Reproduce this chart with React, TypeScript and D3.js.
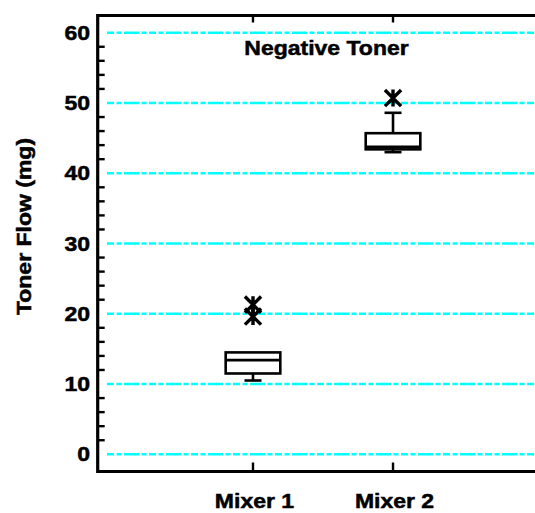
import React from 'react';
import * as d3 from 'd3';

// box summary per mixer (mg)
const categories = ['Mixer 1', 'Mixer 2'];
const lowerWhisker = [10.5, 43.0];
const q1 = [11.5, 43.4];
const medians = [13.4, 43.75];
const q3 = [14.5, 45.7];
const upperWhisker = [14.5, 48.6];
const outliers = [[21.3, 19.6], [50.7]];

const yMajorTicks = [0, 10, 20, 30, 40, 50, 60];
const yMinorTicks = d3.range(2, 60, 2).filter((v) => v % 10 !== 0);

const width = 535;
const height = 513;
const left = 97.7;
const top = 15.5;
const bottom = 471.5;
const font = 'Liberation Sans, Arial, Helvetica, sans-serif';

// the original type is a wide, heavy bold helvetica, so stretch it a bit
function Label({ x, y, anchor = 'middle', rotate = 0, children }: any) {
  return (
    <text
      transform={`translate(${x},${y}) rotate(${rotate}) scale(1.15,1)`}
      textAnchor={anchor}
      fontSize={20}
      stroke="#000"
      strokeWidth={0.5}
    >
      {children}
    </text>
  );
}

function Star({ x, y, r }: { x: number; y: number; r: number }) {
  const d = r * 0.95;
  return (
    <path
      d={`M${x},${y - r}L${x},${y + r}M${x - d},${y - d}L${x + d},${y + d}M${x - d},${y + d}L${x + d},${y - d}`}
      stroke="#000"
      strokeWidth={3.4}
      fill="none"
    />
  );
}

export default function App() {
  const y = d3.scaleLinear().domain([-2.45, 62.45]).range([bottom, top]);
  const x = d3.scalePoint<string>().domain(categories).range([left, 548.3]).padding(1.109);
  const boxW = x.step() * 0.39;
  const capW = 17;

  return (
    <svg
      width={width}
      height={height}
      style={{ position: 'fixed', left: 0, top: 0, background: '#fff' }}
      fontFamily={font}
      fontWeight="bold"
    >
      {/* gridlines */}
      {yMajorTicks.map((t) => (
        <line
          key={'g' + t}
          x1={107}
          x2={width}
          y1={y(t)}
          y2={y(t)}
          stroke="#00ffff"
          strokeWidth={2.4}
          strokeDasharray="7,2.5,5,2.5,15,2.5,5,2.5"
        />
      ))}

      {/* axes frame */}
      <line x1={left} x2={width} y1={top} y2={top} stroke="#000" strokeWidth={3.2} />
      <line x1={left} x2={width} y1={bottom} y2={bottom} stroke="#000" strokeWidth={3.2} />
      <line x1={left} x2={left} y1={top - 1.6} y2={bottom + 1.6} stroke="#000" strokeWidth={3.2} />

      {yMinorTicks.map((t) => (
        <line key={'m' + t} x1={left} x2={left + 7} y1={y(t)} y2={y(t)} stroke="#000" strokeWidth={2.4} />
      ))}
      {yMajorTicks.map((t) => (
        <Label key={'l' + t} x={90} y={y(t) + 7} anchor="end">
          {t}
        </Label>
      ))}

      {categories.map((c) => (
        <g key={'x' + c}>
          <line x1={x(c)} x2={x(c)} y1={top} y2={top + 7} stroke="#000" strokeWidth={2.4} />
          <line x1={x(c)} x2={x(c)} y1={bottom} y2={bottom - 9} stroke="#000" strokeWidth={2.4} />
          <Label x={(x(c) as number) + 1.5} y={508}>
            {c}
          </Label>
        </g>
      ))}

      {/* boxes */}
      {categories.map((c, i) => {
        const cx = x(c) as number;
        return (
          <g key={'b' + c} stroke="#000" strokeWidth={2.6} fill="none">
            <line x1={cx} x2={cx} y1={y(q1[i])} y2={y(lowerWhisker[i])} />
            <line x1={cx - capW / 2} x2={cx + capW / 2} y1={y(lowerWhisker[i])} y2={y(lowerWhisker[i])} />
            {upperWhisker[i] > q3[i] && (
              <>
                <line x1={cx} x2={cx} y1={y(q3[i])} y2={y(upperWhisker[i])} />
                <line x1={cx - capW / 2} x2={cx + capW / 2} y1={y(upperWhisker[i])} y2={y(upperWhisker[i])} />
              </>
            )}
            <rect x={cx - boxW / 2} y={y(q3[i])} width={boxW} height={y(q1[i]) - y(q3[i])} fill="#fff" />
            <line x1={cx - boxW / 2} x2={cx + boxW / 2} y1={y(medians[i])} y2={y(medians[i])} />
            {outliers[i].map((o, j) => (
              <Star key={j} x={cx} y={y(o)} r={8.5} />
            ))}
          </g>
        );
      })}

      <Label x={326.5} y={55}>
        Negative Toner
      </Label>
      <Label x={31} y={(135 + 318) / 2} rotate={-90}>
        Toner Flow (mg)
      </Label>
    </svg>
  );
}
